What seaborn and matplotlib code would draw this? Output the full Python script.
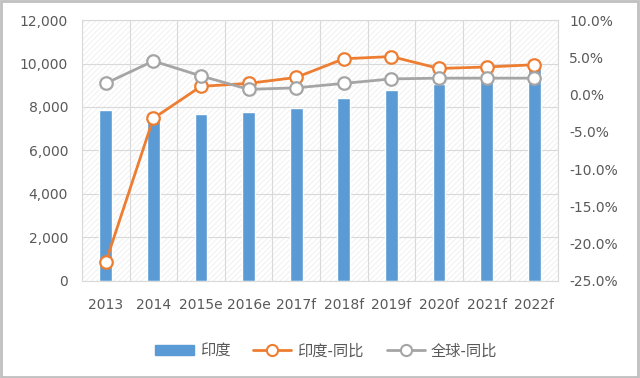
import seaborn as sns
import matplotlib.pyplot as plt
import matplotlib.ticker as mticker
from matplotlib.patches import Rectangle, Patch
from matplotlib.lines import Line2D
import pandas as pd

# 数据
years = ['2013', '2014', '2015e', '2016e', '2017f', '2018f', '2019f', '2020f', '2021f', '2022f']
india = [7880, 7400, 7680, 7790, 7950, 8410, 8780, 9080, 9350, 9800]
india_yoy = [-22.5, -3.2, 1.1, 1.5, 2.3, 4.8, 5.1, 3.5, 3.7, 4.0]
global_yoy = [1.5, 4.5, 2.5, 0.7, 0.9, 1.5, 2.1, 2.2, 2.2, 2.2]

df = pd.DataFrame({'year': years, 'india': india,
                   'india_yoy': india_yoy, 'global_yoy': global_yoy})

sns.set_style('white')
plt.rcParams['font.family'] = ['Noto Sans CJK SC', 'DejaVu Sans']
plt.rcParams['hatch.linewidth'] = 0.5

blue = '#5B9BD5'
orange = '#ED7D31'
gray = '#A5A5A5'
txt = '#595959'

fig = plt.figure(figsize=(6.4, 3.78), dpi=100)
ax = fig.add_axes([0.128, 0.257, 0.744, 0.690])

# 背景斜线纹理
ax.add_patch(Rectangle((0, 0), 1, 1, transform=ax.transAxes, fill=False,
                       hatch='//////', edgecolor='#ebebeb', linewidth=0, zorder=0))

sns.barplot(data=df, x='year', y='india', color=blue, width=0.27,
            saturation=1, ax=ax, zorder=2)
ax.set_xlim(-0.5, 9.5)
ax.set_ylim(0, 12000)
ax.set_yticks(range(0, 12001, 2000))
ax.yaxis.set_major_formatter(mticker.FuncFormatter(lambda v, p: f'{v:,.0f}'))
ax.set_xticks(range(10))
ax.set_xticks([i - 0.5 for i in range(11)], minor=True)
ax.grid(axis='y', which='major', color='#d9d9d9', linewidth=0.8)
ax.grid(axis='x', which='minor', color='#d9d9d9', linewidth=0.8)
ax.set_axisbelow(True)
ax.set_xlabel('')
ax.set_ylabel('')
for s in ax.spines.values():
    s.set_color('#d9d9d9')
    s.set_linewidth(0.8)
ax.tick_params(axis='both', which='both', length=0, colors=txt, labelsize=10)
ax.tick_params(axis='x', pad=12)
ax.tick_params(axis='y', pad=10)
for lab in ax.get_xticklabels() + ax.get_yticklabels():
    lab.set_family('DejaVu Sans')

ax2 = ax.twinx()
sns.lineplot(x=list(range(10)), y=df['india_yoy'], color=orange, linewidth=2,
             marker='o', markersize=9, markerfacecolor='white',
             markeredgecolor=orange, markeredgewidth=1.6, ax=ax2)
sns.lineplot(x=list(range(10)), y=df['global_yoy'], color=gray, linewidth=2,
             marker='o', markersize=9, markerfacecolor='white',
             markeredgecolor=gray, markeredgewidth=1.6, ax=ax2)
ax2.set_ylim(-25, 10)
ax2.set_yticks(range(-25, 11, 5))
ax2.yaxis.set_major_formatter(mticker.FuncFormatter(lambda v, p: f'{v:.1f}%'))
ax2.set_ylabel('')
for s in ax2.spines.values():
    s.set_visible(False)
ax2.tick_params(axis='y', length=0, colors=txt, labelsize=10, pad=8)
for lab in ax2.get_yticklabels():
    lab.set_family('DejaVu Sans')
ax2.set_xlim(-0.5, 9.5)

handles = [
    Patch(facecolor=blue, edgecolor=blue),
    Line2D([], [], color=orange, linewidth=2, marker='o', markersize=8,
           markerfacecolor='white', markeredgecolor=orange, markeredgewidth=1.5),
    Line2D([], [], color=gray, linewidth=2, marker='o', markersize=8,
           markerfacecolor='white', markeredgecolor=gray, markeredgewidth=1.5),
]
leg = fig.legend(handles, ['印度', '印度-同比', '全球-同比'], loc='center',
                 bbox_to_anchor=(0.51, 0.072), ncol=3, frameon=False,
                 fontsize=11, handlelength=2.5, columnspacing=1.5,
                 handletextpad=0.4)
for t in leg.get_texts():
    t.set_color(txt)

# 外边框
fig.patches.append(Rectangle((0.002, 0.003), 0.995, 0.994, transform=fig.transFigure,
                             fill=False, edgecolor='#c0c0c0', linewidth=2))

fig.savefig('out.png', dpi=100)
